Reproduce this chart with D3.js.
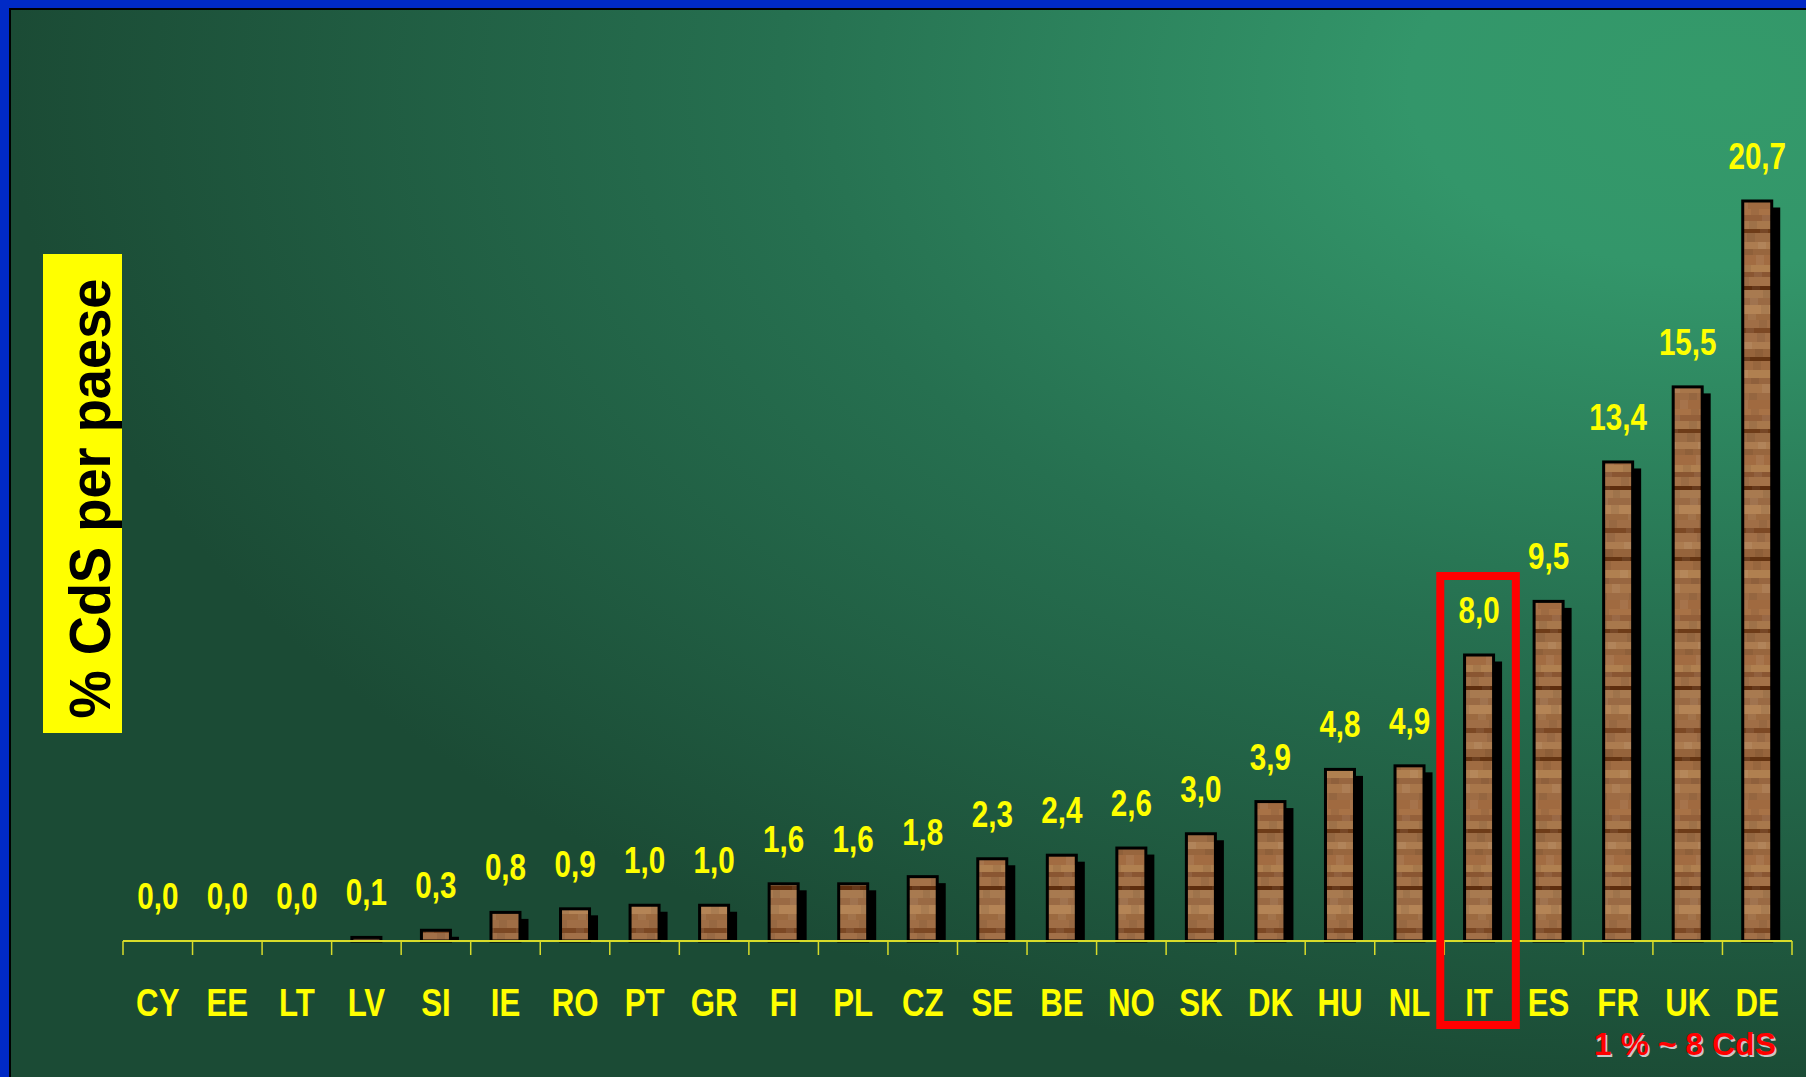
<!DOCTYPE html>
<html>
<head>
<meta charset="utf-8">
<script src="https://cdn.jsdelivr.net/npm/d3@7"></script>
<style>
  html, body { margin: 0; padding: 0; background: #002ac6; overflow: hidden; }
  svg { display: block; }
</style>
</head>
<body>
<svg id="chart" width="1806" height="1077"></svg>
<script>
// ---- data ----
const categories = ["CY","EE","LT","LV","SI","IE","RO","PT","GR","FI","PL","CZ","SE","BE","NO","SK","DK","HU","NL","IT","ES","FR","UK","DE"];
const values = [0.0,0.0,0.0,0.1,0.3,0.8,0.9,1.0,1.0,1.6,1.6,1.8,2.3,2.4,2.6,3.0,3.9,4.8,4.9,8.0,9.5,13.4,15.5,20.7];
const highlighted = "IT";
const yTitle = "% CdS per paese";
const note = "1 % ~ 8 CdS";

// ---- styles ----
const W = 1806, H = 1077;
const woodStripes = [
  [9,'#a06a40'],[6,'#a87246'],[6,'#94603a'],[8,'#a8784c'],[4,'#6e3c18'],[9,'#9c6c44'],
  [7,'#ac7c50'],[6,'#98663e'],[10,'#a26c42'],[7,'#b08050'],[5,'#8a5632'],[9,'#a47248'],
  [4,'#5e2e0e'],[8,'#a87a50'],[7,'#9a6a44'],[9,'#b48456'],[6,'#9c6a40'],[8,'#a06e46'],
  [5,'#7c4824'],[9,'#a27048'],[7,'#ac7c50'],[8,'#96643c'],[4,'#643412'],[9,'#a06c42'],
  [8,'#b08050'],[6,'#986640'],[9,'#a8764a'],[7,'#9e6c44']
];

const svg = d3.select("#chart");
const defs = svg.append("defs");

// background gradient
const bg = defs.append("radialGradient").attr("id","bg")
  .attr("cx",0.95).attr("cy",0.07).attr("r",0.95).attr("fx",0.95).attr("fy",0.07);
bg.append("stop").attr("offset",0).attr("stop-color","#349a6a");
bg.append("stop").attr("offset",0.18).attr("stop-color","#33966a");
bg.append("stop").attr("offset",0.55).attr("stop-color","#267050");
bg.append("stop").attr("offset",1).attr("stop-color","#1b4b35");

// wood pattern
const pH = d3.sum(woodStripes, d => d[0]);
const pat = defs.append("pattern").attr("id","wood")
  .attr("patternUnits","userSpaceOnUse").attr("width",30).attr("height",pH);
let acc = 0;
woodStripes.forEach((s,i) => {
  pat.append("rect").attr("x",0).attr("y",acc).attr("width",30).attr("height",s[0]).attr("fill",s[1]);
  pat.append("rect").attr("x",(i*11)%24).attr("y",acc).attr("width",8).attr("height",s[0])
    .attr("fill", i%2 ? "#000" : "#fff").attr("opacity",0.06);
  acc += s[0];
});

// frame
svg.append("rect").attr("x",0).attr("y",0).attr("width",W).attr("height",H).attr("fill","#002ac6");
svg.append("rect").attr("x",9).attr("y",8).attr("width",W).attr("height",H).attr("fill","#000");
svg.append("rect").attr("x",11).attr("y",10).attr("width",W-11).attr("height",H-10).attr("fill","url(#bg)");

// scales
const x = d3.scaleBand().domain(categories).range([123,1792]).paddingInner(0).paddingOuter(0);
const y = d3.scaleLinear().domain([0,20.7]).range([941,201]);
const barW = 29;
const fmt = v => d3.format(".1f")(v).replace(".",",");
const data = categories.map((c,i) => ({c, v: values[i]}));

// shadows
svg.append("g").selectAll("rect").data(data.filter(d => y(0)-y(d.v) > 8)).join("rect")
  .attr("x", d => x(d.c) + x.bandwidth()/2 - barW/2 + 5.5)
  .attr("y", d => y(d.v) + 6.5)
  .attr("width", barW + 3)
  .attr("height", d => y(0) - y(d.v) - 6.5)
  .attr("fill","#000");

// bars
svg.append("g").selectAll("rect").data(data.filter(d => d.v > 0)).join("rect")
  .attr("x", d => x(d.c) + x.bandwidth()/2 - barW/2)
  .attr("y", d => y(d.v))
  .attr("width", barW)
  .attr("height", d => y(0) - y(d.v))
  .attr("fill","url(#wood)")
  .attr("stroke","#000").attr("stroke-width",3);

// axis
const axisColor = "#d8dc2a";
svg.append("line").attr("x1",x.range()[0]).attr("x2",x.range()[1]).attr("y1",y(0)).attr("y2",y(0))
  .attr("stroke",axisColor).attr("stroke-width",2);
const tickXs = categories.map(c => x(c)).concat([x.range()[1]]);
svg.append("g").selectAll("line").data(tickXs).join("line")
  .attr("x1", d => d).attr("x2", d => d).attr("y1", y(0)).attr("y2", y(0)+14)
  .attr("stroke",axisColor).attr("stroke-width",1.5);

const sans = "'Liberation Sans',Arial,sans-serif";
const squeeze = 0.8;

// value labels
svg.append("g").selectAll("text").data(data).join("text")
  .attr("transform", d => `translate(${x(d.c) + x.bandwidth()/2},${y(d.v) - 32}) scale(${squeeze},1)`)
  .attr("text-anchor","middle")
  .attr("font-family",sans).attr("font-weight","bold").attr("font-size",37)
  .attr("fill","#ffff00")
  .text(d => fmt(d.v));

// category labels
svg.append("g").selectAll("text").data(data).join("text")
  .attr("transform", d => `translate(${x(d.c) + x.bandwidth()/2},1016) scale(${squeeze},1)`)
  .attr("text-anchor","middle")
  .attr("font-family",sans).attr("font-weight","bold").attr("font-size",39)
  .attr("fill","#ffff00")
  .text(d => d.c);

// highlight box
const hv = values[categories.indexOf(highlighted)];
svg.append("rect")
  .attr("x", x(highlighted) - 4)
  .attr("y", y(hv) - 79)
  .attr("width", x.step() + 6)
  .attr("height", 1025 - (y(hv) - 79))
  .attr("fill","none").attr("stroke","#ff0000").attr("stroke-width",8);

// note
svg.append("text").attr("x",1777.5).attr("y",1056.5).attr("text-anchor","end")
  .attr("font-family",sans).attr("font-weight","bold").attr("font-size",32)
  .attr("fill","#c8c8c8").text(note);
svg.append("text").attr("x",1776).attr("y",1055).attr("text-anchor","end")
  .attr("font-family",sans).attr("font-weight","bold").attr("font-size",32)
  .attr("fill","#ff0000").text(note);

// y title box
svg.append("rect").attr("x",43).attr("y",254).attr("width",79).attr("height",479).attr("fill","#ffff00");
svg.append("text")
  .attr("transform","translate(110,498.5) rotate(-90)")
  .attr("text-anchor","middle")
  .attr("font-family",sans).attr("font-weight","bold").attr("font-size",58)
  .attr("textLength",440).attr("lengthAdjust","spacingAndGlyphs")
  .attr("fill","#000")
  .text(yTitle);
</script>
</body>
</html>
